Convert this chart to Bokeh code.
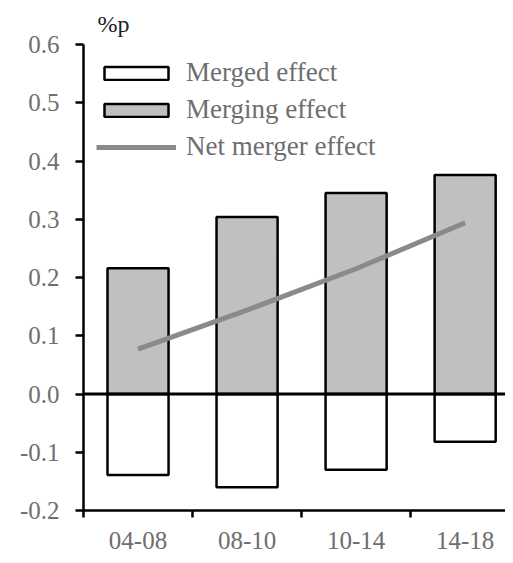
from bokeh.plotting import figure
from bokeh.models import Range1d, FixedTicker, Span, Legend, LegendItem, ColumnDataSource
from bokeh.embed import file_html
from bokeh.resources import INLINE

categories = ["04-08", "08-10", "10-14", "14-18"]
merged = [-0.139, -0.160, -0.130, -0.082]
merging = [0.216, 0.304, 0.345, 0.376]
net = [0.077, 0.144, 0.215, 0.294]
y_ticks = [-0.2, -0.1, 0.0, 0.1, 0.2, 0.3, 0.4, 0.5, 0.6]

xc = [i + 0.5 for i in range(len(categories))]
src = ColumnDataSource(dict(x=xc, merged=merged, merging=merging, net=net))

FONT = "Liberation Serif"
GRAY = "#6e6e6e"

p = figure(width=505, height=555, output_backend="svg", toolbar_location=None,
           x_range=Range1d(0, 3.87), y_range=Range1d(-0.2, 0.6),
           min_border_left=83, min_border_right=0, min_border_top=44, min_border_bottom=45)
p.outline_line_color = None
p.xgrid.visible = False
p.ygrid.visible = False

p.title.text = "%p"
p.title.align = "left"
p.title.offset = 14
p.title.standoff = 15
p.title.text_font = FONT
p.title.text_font_size = "24px"
p.title.text_font_style = "normal"
p.title.text_color = "#222222"

r1 = p.vbar(x="x", top="merged", bottom=0, width=0.56, source=src,
            fill_color="white", line_color="black", line_width=2.5)
r2 = p.vbar(x="x", top="merging", bottom=0, width=0.56, source=src,
            fill_color="#c0c0c0", line_color="black", line_width=2.5)
r3 = p.line(x="x", y="net", source=src, line_color="#8a8a8a", line_width=5)

p.add_layout(Span(location=0, dimension="width", line_color="black", line_width=3))

# x axis
p.xaxis.ticker = FixedTicker(ticks=xc, minor_ticks=list(range(len(categories))))
p.xaxis.major_label_overrides = {v: c for v, c in zip(xc, categories)}
p.xaxis.major_tick_line_color = None
p.xaxis.major_tick_out = 0
p.xaxis.minor_tick_out = 7
p.xaxis.minor_tick_in = 0
p.xaxis.minor_tick_line_color = "black"
p.xaxis.minor_tick_line_width = 2.5
p.xaxis.axis_line_width = 2.5
p.xaxis.axis_line_color = "black"
p.xaxis.major_label_text_font = FONT
p.xaxis.major_label_text_font_size = "25px"
p.xaxis.major_label_text_color = GRAY
p.xaxis.major_label_standoff = 14

# y axis
p.yaxis.ticker = FixedTicker(ticks=y_ticks)
p.yaxis.major_label_overrides = {v: f"{v:.1f}" for v in y_ticks}
p.yaxis.minor_tick_line_color = None
p.yaxis.major_tick_out = 8
p.yaxis.major_tick_in = 0
p.yaxis.major_tick_line_width = 2.5
p.yaxis.axis_line_width = 2.5
p.yaxis.axis_line_color = "black"
p.yaxis.major_label_text_font = FONT
p.yaxis.major_label_text_font_size = "25px"
p.yaxis.major_label_text_color = GRAY
p.yaxis.major_label_standoff = 16

legend = Legend(items=[LegendItem(label="Merged effect", renderers=[r1]),
                       LegendItem(label="Merging effect", renderers=[r2]),
                       LegendItem(label="Net merger effect", renderers=[r3])],
                location="top_left")
legend.border_line_color = None
legend.background_fill_alpha = 0
legend.margin = 13
legend.padding = 12
legend.glyph_width = 80
legend.glyph_height = 16
legend.label_height = 24
legend.spacing = 6
legend.label_standoff = 10
legend.label_text_font = FONT
legend.label_text_font_size = "27px"
legend.label_text_color = GRAY
p.add_layout(legend)

open("out.html", "w").write(file_html(p, INLINE))
